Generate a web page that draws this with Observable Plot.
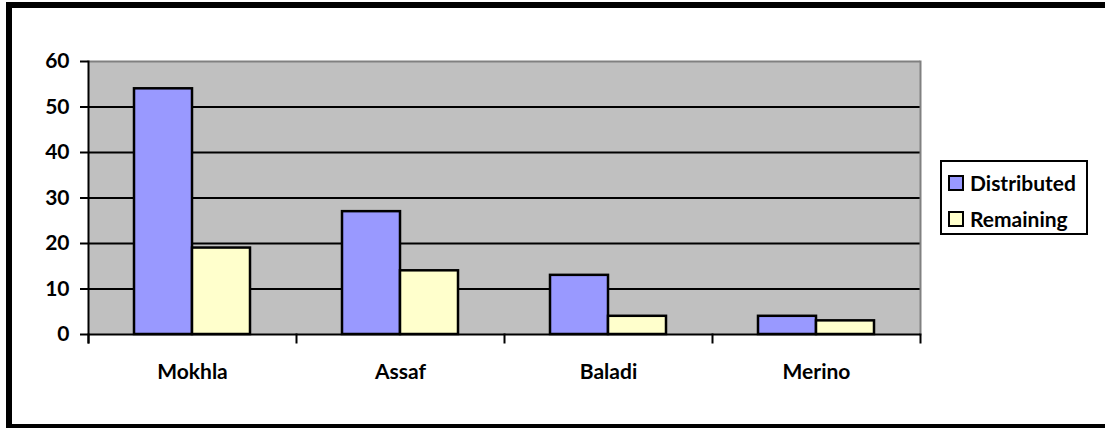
<!DOCTYPE html>
<html>
<head>
<meta charset="utf-8">
<script src="https://cdn.jsdelivr.net/npm/d3@7"></script>
<script src="https://cdn.jsdelivr.net/npm/@observablehq/plot@0.6"></script>
<style>
  html, body { margin: 0; padding: 0; background: #fff; overflow: hidden; }
  body { width: 1105px; height: 428px; position: relative; font-family: Lato, "Open Sans", sans-serif; }
  #border { position: absolute; left: 6px; top: 2px; width: 1120px; border: 6px solid #000; box-sizing: border-box; height: 428px; }
  #chart { position: absolute; left: 0; top: 0; }
  #legend { position: absolute; left: 940px; top: 160px; width: 148px; height: 75px; border: 2px solid #000; box-sizing: border-box; background: #fff; font-weight: bold; font-size: 21px; color: #000; }
  #legend .item { position: absolute; left: 6px; display: flex; align-items: center; white-space: nowrap; }
  #legend .sw { width: 16px; height: 16px; border: 2px solid #000; box-sizing: border-box; margin-right: 6px; }
</style>
</head>
<body>
<div id="border"></div>
<div id="chart"></div>
<div id="legend"></div>
<script>
const categories = ["Mokhla", "Assaf", "Baladi", "Merino"];
const seriesNames = ["Distributed", "Remaining"];
const distributed = [54, 27, 13, 4];
const remaining = [19, 14, 4, 3];
const yTicks = [0, 10, 20, 30, 40, 50, 60];
const colors = ["#9999ff", "#ffffcc"];

const data = [];
categories.forEach((c, i) => {
  data.push({category: c, series: seriesNames[0], value: distributed[i]});
  data.push({category: c, series: seriesNames[1], value: remaining[i]});
});

const W = 1105, H = 428;
const mTop = 61, mRight = 185, mBottom = 94, mLeft = 88;
const plotH = H - mTop - mBottom;
const first = categories[0], last = categories[categories.length - 1];

const chart = Plot.plot({
  width: W,
  height: H,
  marginTop: mTop,
  marginRight: mRight,
  marginBottom: mBottom,
  marginLeft: mLeft,
  style: {fontFamily: "Lato, 'Open Sans', sans-serif", fontWeight: "bold", fontSize: "21px", background: "transparent", color: "#000"},
  fx: {domain: categories, padding: 0, label: null},
  x: {domain: seriesNames, paddingInner: 0, paddingOuter: 0.763, axis: null},
  y: {domain: [0, 60], label: null},
  color: {domain: seriesNames, range: colors},
  marks: [
    Plot.frame({fill: "#c0c0c0", stroke: null, shapeRendering: "crispEdges"}),
    Plot.gridY(yTicks.filter(t => t > 0 && t < 60), {stroke: "#000", strokeOpacity: 1, strokeWidth: 2}),
    Plot.ruleY([60], {stroke: "#808080", strokeWidth: 2}),
    Plot.frame({anchor: "right", fx: [last], stroke: "#808080", strokeWidth: 2}),
    Plot.barY(data, {fx: "category", x: "series", y: "value", fill: "series", stroke: "#000", strokeWidth: 2.5}),
    Plot.ruleY([0], {stroke: "#000", strokeWidth: 2}),
    Plot.frame({anchor: "left", stroke: "#000", strokeWidth: 2, insetTop: plotH, insetBottom: -8}),
    Plot.frame({anchor: "right", fx: [last], stroke: "#000", strokeWidth: 2, insetTop: plotH, insetBottom: -8}),
    Plot.frame({anchor: "left", fx: [first], stroke: "#000", strokeWidth: 2, insetBottom: -8}),
    Plot.axisY({ticks: yTicks, tickSize: 8, tickPadding: 11, stroke: "#000", strokeWidth: 2, tickFormat: d => d, label: null}),
    Plot.axisFx({anchor: "bottom", tickSize: 0, tickPadding: 30, label: null})
  ]
});
document.getElementById("chart").append(chart);

const legend = document.getElementById("legend");
seriesNames.forEach((s, i) => {
  const item = document.createElement("div");
  item.className = "item";
  item.style.top = (i === 0 ? 8 : 44) + "px";
  const sw = document.createElement("div");
  sw.className = "sw";
  sw.style.background = colors[i];
  const t = document.createElement("span");
  t.textContent = s;
  item.append(sw, t);
  legend.append(item);
});
</script>
</body>
</html>
